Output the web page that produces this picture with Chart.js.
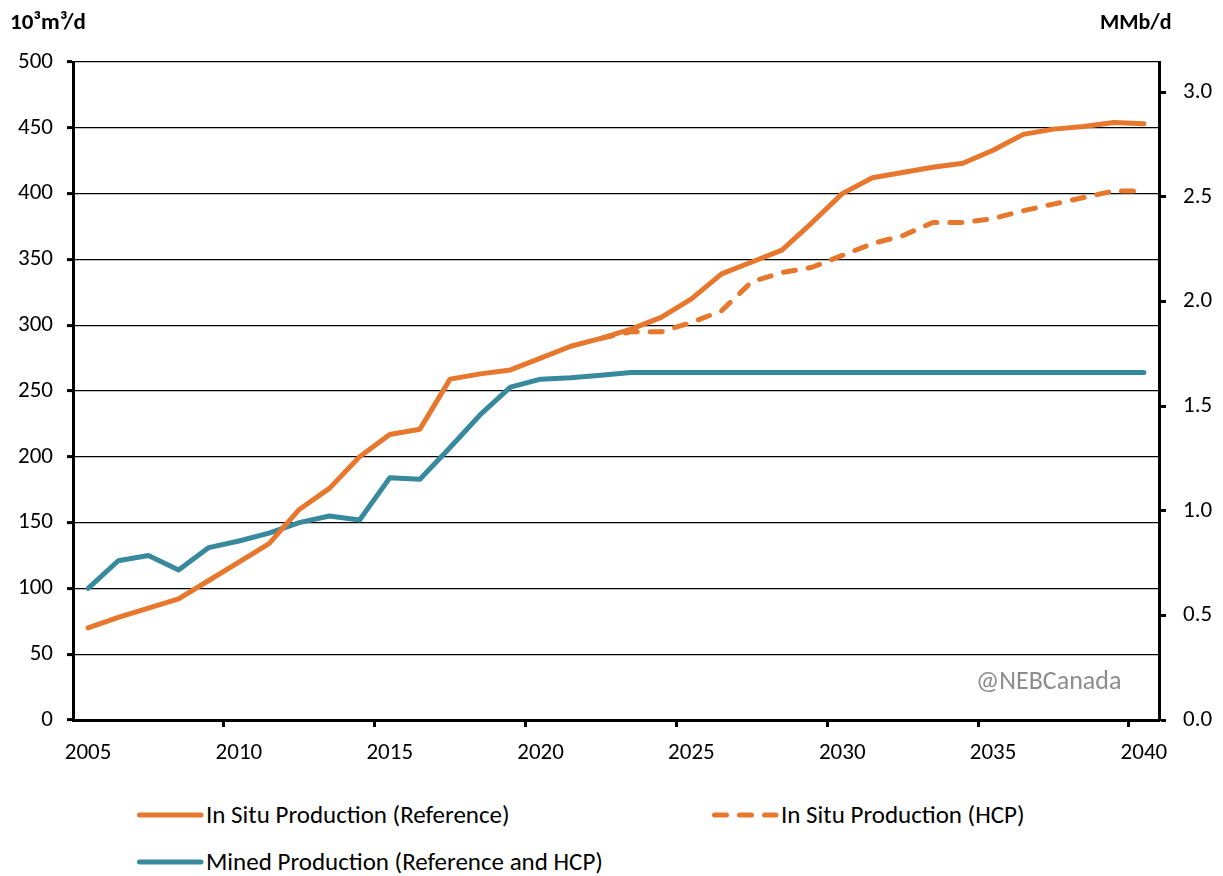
<!DOCTYPE html>
<html>
<head>
<meta charset="utf-8">
<script src="https://cdn.jsdelivr.net/npm/chart.js@4.4.1/dist/chart.umd.min.js"></script>
<style>
  body { margin: 0; background: #fff; font-family: Carlito, Lato, sans-serif; }
  #wrap { position: relative; width: 1223px; height: 876px; overflow: hidden; }
  #box { position: absolute; left: 0; top: 0; width: 1223px; height: 790px; }
  .unit { position: absolute; top: 7px; font-weight: bold; font-size: 23px; color: #000; }
  .mark { position: absolute; font-size: 26px; color: #8c8c8c; }
  .leg { position: absolute; height: 28px; }
  .leg svg { position: absolute; left: 0; top: 4px; }
  .leg span { position: absolute; left: 71px; top: 0; font-size: 25px; line-height: 28px; white-space: nowrap; color: #000; }
</style>
</head>
<body>
<div id="wrap">
  <div id="box"><canvas id="chart"></canvas></div>
  <div class="unit" style="left:10px">10³m³/d</div>
  <div class="unit" style="left:1100px;font-size:22px;top:8px">MMb/d</div>
  <div class="mark" style="left:976px;top:664px">@NEBCanada</div>
  <div id="legend"></div>
</div>
<script>
// Données (10^3 m3/d)
const years = [2005, 2006, 2007, 2008, 2009, 2010, 2011, 2012, 2013, 2014,
               2015, 2016, 2017, 2018, 2019, 2020, 2021, 2022, 2023, 2024,
               2025, 2026, 2027, 2028, 2029, 2030, 2031, 2032, 2033, 2034,
               2035, 2036, 2037, 2038, 2039, 2040];

const inSituRef = [70, 78, 85, 92, 106, 120, 134, 160, 176, 200,
                   217, 221, 259, 263, 266, 275, 284, 290, 297, 306,
                   320, 339, 348, 357, 378, 400, 412, 416, 420, 423,
                   433, 445, 449, 451, 454, 453];

const inSituHCP = [null, null, null, null, null, null, null, null, null, null,
                   null, null, null, null, null, null, null, 290, 295, 295,
                   302, 311, 333, 340, 344, 353, 362, 368, 378, 378,
                   381, 387, 392, 397, 402, 402];

const mined = [100, 121, 125, 114, 131, 136, 142, 150, 155, 152,
               184, 183, 207, 232, 253, 259, 260, 262, 264, 264,
               264, 264, 264, 264, 264, 264, 264, 264, 264, 264,
               264, 264, 264, 264, 264, 264];

const leftMax = 500;
const m3ToBbl = 6.2898; // 10^3 m3/d -> MMb/d : x 6.2898 / 1000

const ORANGE = '#E8772E';
const TEAL = '#37899E';

const tickFont = { family: 'Carlito, Lato, sans-serif', size: 23 };

function lineSet(label, data, color, dash) {
    return {
        label: label, data: data, borderColor: color, backgroundColor: color,
        borderWidth: 5, pointRadius: 0, tension: 0, fill: false,
        borderCapStyle: 'round', borderJoinStyle: 'round',
        borderDash: dash || [], spanGaps: false
    };
}

const chart = new Chart(document.getElementById('chart'), {
    type: 'line',
    data: {
        labels: years,
        datasets: [
            lineSet('In Situ Production (Reference)', inSituRef, ORANGE),
            lineSet('In Situ Production (HCP)', inSituHCP, ORANGE, [12, 13]),
            lineSet('Mined Production (Reference and HCP)', mined, TEAL)
        ]
    },
    options: {
        responsive: true, maintainAspectRatio: false,
        animation: false,
        layout: { padding: { top: 62, left: 0, right: 0, bottom: 0 } },
        plugins: { legend: { display: false }, tooltip: { enabled: false } },
        scales: {
            x: {
                type: 'category', offset: true,
                grid: {
                    offset: true, drawOnChartArea: false, tickLength: 7, tickWidth: 3,
                    tickColor: ctx => (ctx.index % 5 === 0 && ctx.index > 0 && ctx.index < years.length) ? '#000' : 'rgba(0,0,0,0)'
                },
                border: { color: '#000', width: 3 },
                ticks: {
                    autoSkip: false, maxRotation: 0, minRotation: 0, padding: 12,
                    color: '#000', font: tickFont,
                    callback: function(v) { const y = this.getLabelForValue(v); return (y % 5 === 0) ? String(y) : ''; }
                },
                afterFit: s => { s.height = 70; }
            },
            y: {
                position: 'left', min: 0, max: leftMax,
                grid: { color: '#000', lineWidth: 1.2, tickLength: 6, tickWidth: 3, tickColor: '#000' },
                border: { color: '#000', width: 3 },
                ticks: { stepSize: 50, padding: 14, color: '#000', font: tickFont },
                afterFit: s => { s.width = 73; }
            },
            y2: {
                position: 'right', min: 0, max: leftMax * m3ToBbl / 1000,
                grid: { drawOnChartArea: false, tickLength: 7, tickWidth: 3, tickColor: '#000' },
                border: { color: '#000', width: 3 },
                ticks: { stepSize: 0.5, includeBounds: false, padding: 17, color: '#000', font: tickFont,
                         callback: v => v.toFixed(1) },
                afterFit: s => { s.width = 64; }
            }
        }
    }
});

// Légende HTML en deux colonnes
const legendItems = [
    { text: 'In Situ Production (Reference)', color: ORANGE, dash: null, x: 135, y: 801 },
    { text: 'In Situ Production (HCP)', color: ORANGE, dash: '12 13', x: 710, y: 801 },
    { text: 'Mined Production (Reference and HCP)', color: TEAL, dash: null, x: 135, y: 848 }
];
const legendBox = document.getElementById('legend');
legendItems.forEach(it => {
    const d = document.createElement('div');
    d.className = 'leg';
    d.style.left = it.x + 'px';
    d.style.top = it.y + 'px';
    const dashAttr = it.dash ? ` stroke-dasharray="${it.dash}"` : '';
    d.innerHTML = `<svg width="72" height="20"><line x1="4.5" y1="10" x2="66" y2="10" stroke="${it.color}" stroke-width="5" stroke-linecap="round"${dashAttr}/></svg><span>${it.text}</span>`;
    legendBox.appendChild(d);
});
</script>
</body>
</html>
